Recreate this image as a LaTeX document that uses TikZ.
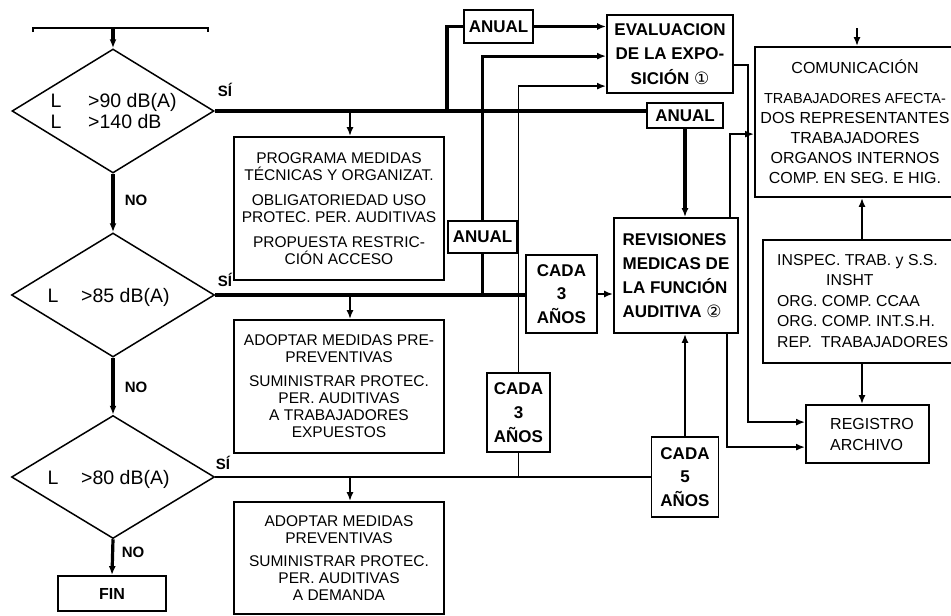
\documentclass[tikz,border=0pt]{standalone}
\usepackage{fontspec}
\setmainfont{Liberation Sans}
\newfontfamily\dejavu{DejaVu Sans}
\usetikzlibrary{shapes.geometric,arrows.meta,calc}
\newcommand\myfs[2]{\fontsize{#1}{#2}\selectfont}
\begin{document}
\begin{tikzpicture}[x=1pt,y=-1pt,
  thk/.style={line width=3.2pt},
  thn/.style={line width=1.8pt},
  arr/.style={-{Latex[length=9pt,width=7pt]}},
  box/.style={draw,line width=1.8pt,inner sep=0pt,align=center,font=\myfs{15.5}{17.5}},
  bbox/.style={draw,line width=1.8pt,inner sep=0pt,align=center,font=\bfseries\myfs{17}{24}},
  dia/.style={draw,diamond,line width=1.5pt,inner sep=0pt},
  dtxt/.style={font=\myfs{19.5}{22},inner sep=0pt},
  lbl/.style={font=\bfseries\myfs{15}{17},inner sep=0pt},
  rtxt/.style={font=\myfs{16}{20.5},inner sep=0pt}
]
\useasboundingbox (0,0) rectangle (951,616);
\clip (0,0) rectangle (951,616);

% ---------- left column: decisions ----------
\coordinate (tl) at (33,28);
\coordinate (tr) at (208,28);
\coordinate (tm) at (113,28);
\draw[thn] ([yshift=-4pt]tl) -- (tl) -- (tr) -- ([yshift=-4pt]tr);

\node[dia,minimum width=202pt,minimum height=124pt] (d1) at (113,111) {};
\node[dia,minimum width=203pt,minimum height=124pt] (d2) at (113,295) {};
\node[dia,minimum width=203pt,minimum height=123pt] (d3) at (113,477) {};
\node[box,font=\bfseries\myfs{16}{18},minimum width=108pt,minimum height=35pt] (fin) at (112,593.5) {FIN};

\node[dtxt,anchor=base] (d1La) at (56,107) {L};
\node[dtxt,anchor=base west] (d1ta) at (88,107) {>90 dB(A)};
\node[dtxt,anchor=base] (d1Lb) at (56,128) {L};
\node[dtxt,anchor=base west] (d1tb) at (88,128) {>140 dB};
\node[dtxt,anchor=base] (d2L) at (53,302) {L};
\node[dtxt,anchor=base west] (d2t) at (81,302) {>85 dB(A)};
\node[dtxt,anchor=base] (d3L) at (53,484) {L};
\node[dtxt,anchor=base west] (d3t) at (81,484) {>80 dB(A)};

\node[lbl] (si1) at (225,90) {SÍ};
\node[lbl] (si2) at (225,280) {SÍ};
\node[lbl] (si3) at (223,463) {SÍ};
\node[lbl] (no1) at (136,200) {NO};
\node[lbl] (no2) at (136,387) {NO};
\node[lbl] (no3) at (133,552) {NO};

\draw[thk,arr] (tm) -- (d1.north);
\draw[thk,arr] (d1.south) -- (d2.north);
\draw[thk,arr] (d2.south) -- (d3.north);
\draw[thk,arr] (d3.south) -- (fin.north);

% ---------- measure boxes ----------
\node[box,minimum width=210pt,minimum height=143pt] (b1) at (339,208.5)
 {PROGRAMA MEDIDAS\\TÉCNICAS Y ORGANIZAT.\\[7pt]OBLIGATORIEDAD USO\\PROTEC. PER. AUDITIVAS\\[7pt]PROPUESTA RESTRIC-\\CIÓN ACCESO};
\node[box,font=\myfs{15.5}{17},minimum width=210pt,minimum height=133pt] (b2) at (339,386.5)
 {ADOPTAR MEDIDAS PRE-\\PREVENTIVAS\\[7pt]SUMINISTRAR PROTEC.\\PER. AUDITIVAS\\A TRABAJADORES\\EXPUESTOS};
\node[box,font=\myfs{15.5}{17},minimum width=210pt,minimum height=112pt] (b3) at (339,558)
 {ADOPTAR MEDIDAS\\PREVENTIVAS\\[6pt]SUMINISTRAR PROTEC.\\PER. AUDITIVAS\\A DEMANDA};

% ---------- periodicity boxes ----------
\node[bbox,minimum width=69pt,minimum height=33pt] (anual1) at (498.5,26.5) {ANUAL};
\node[bbox,minimum width=69pt,minimum height=32pt] (anual2) at (482.5,237) {ANUAL};
\node[bbox,minimum width=76pt,minimum height=25pt] (anual3) at (685,115.5) {ANUAL};
\node[bbox,font=\bfseries\myfs{17}{23.5},minimum width=71pt,minimum height=78pt] (cada3a) at (561.5,294) {CADA\\3\\AÑOS};
\node[bbox,font=\bfseries\myfs{17}{24},minimum width=63pt,minimum height=79pt] (cada3b) at (518.5,412.5) {CADA\\3\\AÑOS};
\node[bbox,font=\bfseries\myfs{17}{23.5},minimum width=67pt,minimum height=80pt] (cada5) at (685,477) {CADA\\5\\AÑOS};

\node[bbox,font=\bfseries\myfs{17}{24.5},minimum width=126pt,minimum height=78pt] (eval) at (670,54)
 {EVALUACION\\DE LA EXPO-\\SICIÓN {\dejavu\mdseries ①}};
\node[bbox,align=left,minimum width=124pt,minimum height=115pt] (rev) at (676,275.5)
 {REVISIONES\\MEDICAS DE\\LA FUNCIÓN\\AUDITIVA {\dejavu\mdseries ②}};

% ---------- right column ----------
\node[draw,line width=1.8pt,minimum width=206pt,minimum height=150pt,inner sep=0pt] (com) at (858,122) {};
\node[rtxt,align=center,font=\myfs{16}{20}] (comt) at (855,122)
 {COMUNICACIÓN\\[10pt]{\myfs{14.5}{20}TRABAJADORES AFECTA-}\\DOS REPRESENTANTES\\TRABAJADORES\\ORGANOS INTERNOS\\COMP. EN SEG. E HIG.};
\node[draw,line width=1.8pt,minimum width=200pt,minimum height=123pt,inner sep=0pt] (insp) at (863,301.5) {};
\node[rtxt,align=left,anchor=west,font=\myfs{15.8}{20.5}] (inspt) at (777,301)
 {INSPEC. TRAB. y S.S.\\\hspace*{49pt}INSHT\\ORG. COMP. CCAA\\ORG. COMP. INT.S.H.\\REP.\ \ TRABAJADORES};
\node[draw,line width=1.8pt,minimum width=123pt,minimum height=58pt,inner sep=0pt] (reg) at (867.5,434) {};
\node[rtxt,align=left,anchor=west,font=\myfs{16}{21}] (regt) at (830,434) {REGISTRO\\ARCHIVO};

% ---------- connectors ----------
% level 1 (>90)
\coordinate (j1) at (350,111);
\coordinate (k1) at (447,111);
\draw[thk] (d1.east) -- (d1.east -| anual3.west);
\draw[thn,arr] (j1) -- (j1 |- b1.north);
\draw[thk] (k1) |- (anual1.west);
\draw[thk,arr] (anual1.east) -- (anual1.east -| eval.west);
\draw[thk,arr] (anual3.south) -- (anual3.south |- rev.north);

% level 2 (>85)
\coordinate (j2) at (350,295);
\draw[thk] (d2.east) -- (d2.east -| cada3a.west);
\draw[thn,arr] (j2) -- (j2 |- b2.north);
\draw[thk] (anual2.south) -- (anual2.south |- d2.east);
\draw[thk,arr] (anual2.north) |- ($(eval.north west)+(0,42)$);
\draw[thn,arr] (cada3a.east) -- (cada3a.east -| rev.west);

% level 3 (>80)
\coordinate (j3) at (350,477);
\draw[thn] (d3.east) -- (d3.east -| cada5.west);
\draw[thn,arr] (j3) -- (j3 |- b3.north);
\draw[thn] (cada3b.south) -- (cada3b.south |- d3.east);
\draw[thn,arr] (cada3b.north) |- ($(eval.north west)+(0,72)$);
\draw[thn,arr] (cada5.north) -- (cada5.north |- rev.south);

% right side
\coordinate (v1) at (748,65);
\draw[thn,arr] (eval.east |- v1) -- (v1) |- ($(reg.north west)+(0,18)$);
\draw[thn,arr] ($(rev.north east)+(-9,0)$) |- ($(com.north west)+(0,88)$);
\draw[thn,arr] ($(rev.south east)+(-12,0)$) |- ($(reg.north west)+(0,43)$);
\coordinate (cs) at (857,28);
\draw[thn,arr] (cs) -- (cs |- com.north);
\draw[thn,arr] (insp.north -| 862,0) -- (862,0 |- com.south);
\draw[thn,arr] (insp.south -| 862,0) -- (862,0 |- reg.north);
\end{tikzpicture}
\end{document}
